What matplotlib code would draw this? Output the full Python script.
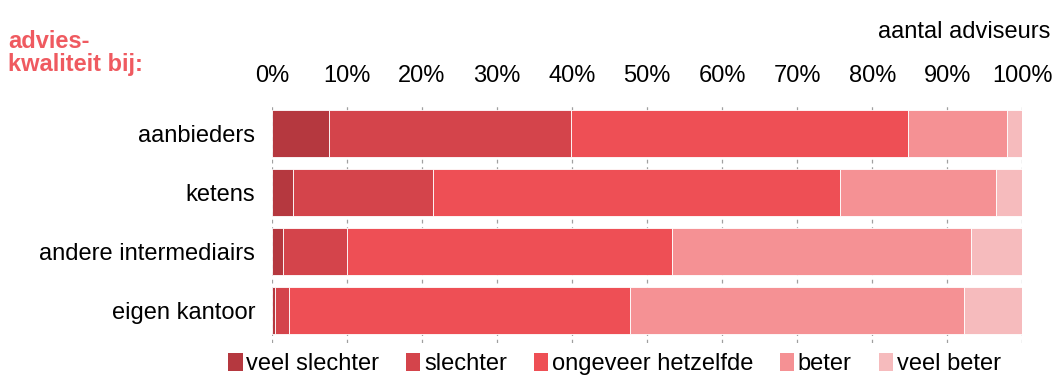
import numpy as np
import matplotlib.pyplot as plt
from matplotlib.patches import Patch

plt.rcParams["font.family"] = ["Liberation Sans", "DejaVu Sans"]

categories = ["aanbieders", "ketens", "andere intermediairs", "eigen kantoor"]
labels = ["veel slechter", "slechter", "ongeveer hetzelfde", "beter", "veel beter"]
veel_slechter = [7.6, 2.8, 1.5, 0.4]
slechter = [32.3, 18.6, 8.5, 1.9]
ongeveer = [44.8, 54.3, 43.3, 45.4]
beter = [13.3, 20.8, 39.8, 44.5]
veel_beter = [2.0, 3.5, 6.9, 7.8]
colors = ["#b5383f", "#d4444b", "#ee4f55", "#f59194", "#f6bbbd"]

series = [veel_slechter, slechter, ongeveer, beter, veel_beter]
fs = 17

fig = plt.figure(figsize=(10.54, 3.78), dpi=100)
ax = fig.add_axes([0.258, 0.093, 0.712, 0.632])

y = np.arange(len(categories))
left = np.zeros(len(categories))
for vals, col, lab in zip(series, colors, labels):
    ax.barh(y, vals, left=left, height=0.8, color=col, edgecolor="white",
            linewidth=0.6, label=lab, zorder=2)
    left += np.array(vals)

ax.set_xlim(0, 100)
ax.set_ylim(3.55, -0.5)
ax.set_yticks(y)
ax.set_yticklabels(categories, fontsize=fs)
ax.set_xticks(np.arange(0, 101, 10))
ax.set_xticklabels([f"{v}%" for v in range(0, 101, 10)], fontsize=fs)
ax.xaxis.tick_top()
ax.tick_params(axis="x", length=0, pad=12)
ax.tick_params(axis="y", length=0, pad=12)
ax.grid(axis="x", color="#a0a0a0", linestyle=(0, (3, 3)), linewidth=0.9, zorder=1)
for s in ax.spines.values():
    s.set_visible(False)

fig.text(0.008, 0.86, "advies-\nkwaliteit bij:", color="#ef5a60", fontsize=fs,
         fontweight="bold", va="center", ha="left", linespacing=1.0)
fig.text(0.997, 0.915, "aantal adviseurs", fontsize=fs, ha="right", va="center")

handles = [Patch(facecolor=c, edgecolor="none") for c in colors]
fig.legend(handles, labels, loc="lower center", bbox_to_anchor=(0.583, -0.048),
           ncol=5, frameon=False, fontsize=fs, handlelength=0.6, handleheight=0.8,
           handletextpad=0.15, columnspacing=1.15)

fig.savefig("out.png", dpi=100)
